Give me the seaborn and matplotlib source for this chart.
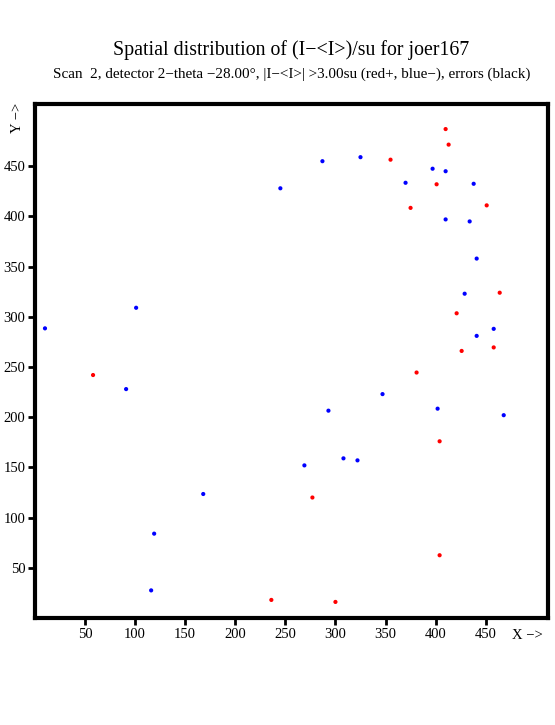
import pandas as pd
import matplotlib
matplotlib.use("Agg")
import matplotlib.pyplot as plt
import seaborn as sns

# deviations above +3 su (red)
pos_x = [410, 413, 355, 401, 375, 451, 464, 421, 458, 426, 58, 236, 381, 404, 277, 404, 300]
pos_y = [487, 471.5, 456.5, 432, 408.5, 411, 324, 303.5, 269.5, 266, 242, 18, 244.5, 176, 120, 62.5, 16]

# deviations below -3 su (blue)
neg_x = [245, 287, 325, 397, 410, 370, 438, 410, 434, 441, 429, 458, 441, 10, 101,
         91, 168, 119, 116, 347, 293, 402, 468, 308, 322, 269]
neg_y = [428, 455, 459, 447.5, 445, 433.5, 432.5, 397, 395, 358, 323, 288, 281, 288.5, 309,
         228, 123.5, 84, 27.5, 223, 206.5, 208.5, 202, 159, 157, 152]

ticks = [50, 100, 150, 200, 250, 300, 350, 400, 450]

df = pd.DataFrame({
    "x": pos_x + neg_x,
    "y": pos_y + neg_y,
    "sign": ["+"] * len(pos_x) + ["-"] * len(neg_x),
})

sns.set_style("white", {"text.color": "black", "xtick.color": "black",
                        "ytick.color": "black", "axes.edgecolor": "black"})
plt.rcParams["font.family"] = ["Liberation Serif", "DejaVu Serif"]

fig = plt.figure(figsize=(5.55, 7.25), dpi=100)
ax = fig.add_axes([0.063, 0.1476, 0.924, 0.709])

sns.scatterplot(data=df, x="x", y="y", hue="sign", palette={"+": "red", "-": "blue"},
                s=9, linewidth=0, legend=False, ax=ax)

ax.set_xlim(0, 512)
ax.set_ylim(0, 512)
ax.set_xticks(ticks)
ax.set_yticks(ticks)
ax.set_xlabel("")
ax.set_ylabel("")
ax.tick_params(direction="out", length=5, width=2, labelsize=10.5, pad=2,
               bottom=True, left=True, top=False, right=False)
for sp in ax.spines.values():
    sp.set_linewidth(3)
    sp.set_color("black")

fig.text(0.525, 0.931, "Spatial distribution of (I\u2212<I>)/su for joer167",
         ha="center", va="center", fontsize=14.3)
fig.text(0.525, 0.898, "Scan  2, detector 2\u2212theta \u221228.00\u00b0, |I\u2212<I>| >3.00su (red+, blue\u2212), errors (black)",
         ha="center", va="center", fontsize=10.9)
fig.text(0.950, 0.123, "X \u2212>", ha="center", va="center", fontsize=10.5)
fig.text(0.031, 0.837, "Y \u2212>", ha="center", va="center", fontsize=10.5, rotation=90)

fig.savefig("out.png", dpi=100)
